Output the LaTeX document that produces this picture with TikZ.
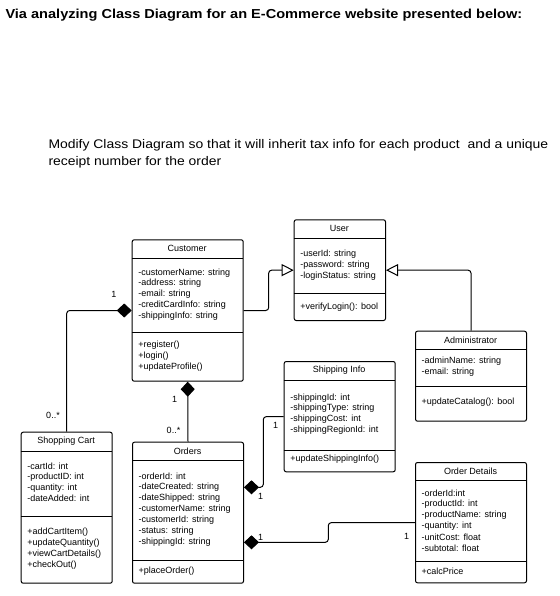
\documentclass[tikz,border=0pt]{standalone}
\usepackage{graphicx}
\usepackage{fontspec}
\setmainfont{Liberation Sans}
\usetikzlibrary{positioning,arrows.meta}
\tikzstyle{diagram} = [x = 1pt, y = -1pt]
\tikzstyle{classFrame} = [draw, fill=white, rounded corners = 2pt, line width = 1pt, inner sep = 0pt]
\tikzstyle{classLine} = [line width = 1pt]
\tikzstyle{classTitle} = [font=\fontsize{9}{11}\selectfont, inner sep = 0pt]
\tikzstyle{memberText} = [font=\fontsize{9}{11}\selectfont, anchor=west, inner sep = 0pt]
\tikzstyle{multText} = [font=\fontsize{9}{11}\selectfont, inner sep = 0pt]
\tikzstyle{headText} = [anchor=base west, inner sep = 0pt]
\tikzstyle{inheritLine} = [line width = 1pt, rounded corners = 3pt, -{Triangle[open, length=12pt, width=12pt]}]
\tikzstyle{composeLine} = [line width = 1pt, rounded corners = 3pt, -{Diamond[length=15pt, width=14pt, fill=black]}]
\newcommand{\memberStep}{10.9}
\newcommand{\wideText}[2]{\scalebox{#1}[1]{#2}}
% box: name, left, top, right, bottom, header line, divider line, title
\newcommand{\classBox}[8]{
  \node [classFrame, anchor=north west, minimum width=#4-#2, minimum height=#5-#3] (#1) at (#2, #3) {};
  \draw [classLine] (#2, #6) -- (#4, #6);
  \draw [classLine] (#2, #7) -- (#4, #7);
  \node [classTitle] (#1-title) at ({(#2+#4)/2}, {(#3+#6)/2}) {#8};
}
\newcommand{\classMembers}[4]{
  \foreach \memberLine [count=\i] in {#4} {
    \node [memberText] (#1-\i) at (#2 + 6.5, #3 + \i*\memberStep - \memberStep) {\memberLine};
  }
}

\begin{document}
\begin{tikzpicture}[diagram]
  \useasboundingbox (0,0) rectangle (559,596);

  \node [headText, font=\fontsize{13}{15}\selectfont\bfseries] (heading) at (5.3, 18.3) {\wideText{1.12}{Via analyzing Class Diagram for an E-Commerce website presented below:}};
  \node [headText, font=\fontsize{12.5}{15}\selectfont] (taskA) at (48.3, 149) {\wideText{1.115}{Modify Class Diagram so that it will inherit tax info for each product\ \ and a unique}};
  \node [headText, font=\fontsize{12.5}{15}\selectfont] (taskB) at (48.3, 165) {\wideText{1.115}{receipt number for the order}};

  \classBox{customer}{131.7}{239.3}{242.7}{380.7}{258.3}{332.7}{Customer}
  \classMembers{customerAttr}{131.7}{272.7}{-customerName: string, -address: string, -email: string, -creditCardInfo: string, -shippingInfo: string}
  \classMembers{customerOp}{131.7}{345}{+register(), +login(), +updateProfile()}

  \classBox{user}{293.7}{219.3}{385}{320}{238}{293.3}{User}
  \classMembers{userAttr}{293.7}{254.3}{-userId: string, -password: string, -loginStatus: string}
  \classMembers{userOp}{293.7}{306.7}{+verifyLogin(): bool}

  \classBox{admin}{415}{330.7}{526}{420.7}{349.3}{386}{Administrator}
  \classMembers{adminAttr}{415}{361}{-adminName: string, -email: string}
  \classMembers{adminOp}{415}{401.7}{+updateCatalog(): bool}

  \classBox{shipping}{283.7}{361}{394.7}{471.3}{380}{450}{Shipping Info}
  \classMembers{shippingAttr}{283.7}{397.7}{-shippingId: int, -shippingType: string, -shippingCost: int, -shippingRegionId: int}
  \classMembers{shippingOp}{283.7}{459.3}{+updateShippingInfo()}

  \classBox{details}{415}{462}{526}{582.3}{480.7}{561.3}{Order Details}
  \classMembers{detailsAttr}{415}{493.3}{-orderId:int, -productId: int, -productName: string, -quantity: int, -unitCost: float, -subtotal: float}
  \classMembers{detailsOp}{415}{571}{+calcPrice}

  \classBox{cart}{20.7}{431.7}{111.7}{582.7}{451}{516.7}{Shopping Cart}
  \classMembers{cartAttr}{20.7}{466}{-cartId: int, -productID: int, -quantity: int, -dateAdded: int}
  \classMembers{cartOp}{20.7}{532.3}{+addCartItem(), +updateQuantity(), +viewCartDetails(), +checkOut()}

  \classBox{orders}{132}{441.7}{243}{582.7}{460.7}{560.7}{Orders}
  \classMembers{ordersAttr}{132}{476.7}{-orderId: int, -dateCreated: string, -dateShipped: string, -customerName: string, -customerId: string, -status: string, -shippingId: string}
  \classMembers{ordersOp}{132}{571}{+placeOrder()}

  % inheritance
  \draw [inheritLine] (customer.east) -- ++(25,0) |- (user.west);
  \draw [inheritLine] (admin.north) |- (user.east);

  % composition
  \coordinate (ordersShip) at ([yshift=-45.6pt]orders.north east);
  \coordinate (ordersDetails) at ([yshift=-100.6pt]orders.north east);
  \draw [composeLine] (cart.north) |- (customer.west);
  \draw [composeLine] (orders.north) -- (customer.south);
  \draw [composeLine] (shipping.west) -- ++(-20.4,0) |- (ordersShip);
  \draw [composeLine] (details.west) -- ++(-86.7,0) |- (ordersDetails);

  \node [multText] (multCartOne) at (114, 294) {1};
  \node [multText] (multCartMany) at (53, 415.3) {0..*};
  \node [multText] (multOrdOne) at (174.7, 399.7) {1};
  \node [multText] (multOrdMany) at (173.5, 430.7) {0..*};
  \node [multText] (multShipA) at (275.7, 425.3) {1};
  \node [multText] (multShipB) at (260.7, 496) {1};
  \node [multText] (multDetA) at (260.7, 537.7) {1};
  \node [multText] (multDetB) at (406.7, 536.7) {1};
\end{tikzpicture}
\end{document}
